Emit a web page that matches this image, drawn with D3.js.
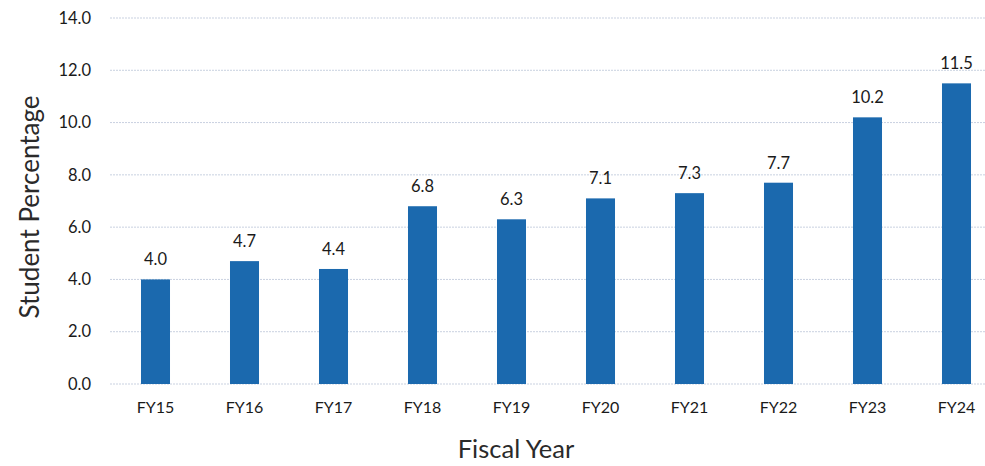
<!DOCTYPE html>
<html><head><meta charset="utf-8">
<script src="https://cdn.jsdelivr.net/npm/d3@7"></script>
<style>html,body{margin:0;padding:0;background:#fff;overflow:hidden}</style>
</head><body>
<svg id="c" width="985" height="466"></svg>
<script>
const categories = ["FY15","FY16","FY17","FY18","FY19","FY20","FY21","FY22","FY23","FY24"];
const values = [4.0,4.7,4.4,6.8,6.3,7.1,7.3,7.7,10.2,11.5];
const yTicks = [0,2,4,6,8,10,12,14];

const svg = d3.select("#c");
const font = "Lato, 'Open Sans', sans-serif";
const x = d3.scaleBand().domain(categories).range([111,1001]).paddingInner(0.674).paddingOuter(0.337);
const y = d3.scaleLinear().domain([0,14]).range([384,18]);

svg.append("g").selectAll("line").data(yTicks).join("line")
  .attr("x1",110).attr("x2",985)
  .attr("y1",d=>y(d)).attr("y2",d=>y(d))
  .attr("stroke","#c9d1e0").attr("stroke-width",1).attr("stroke-dasharray","2,1");

const yAxis = svg.append("g").attr("transform","translate(110,0)")
  .call(d3.axisLeft(y).tickValues(yTicks).tickFormat(d3.format(".1f")).tickSize(0).tickPadding(19));
yAxis.select(".domain").remove();
yAxis.selectAll("text").attr("font-family",font).attr("font-size",16.5).attr("fill","#1a1a1a");

svg.append("g").selectAll("rect").data(values).join("rect")
  .attr("x",(d,i)=>x(categories[i])).attr("width",x.bandwidth())
  .attr("y",d=>y(d)).attr("height",d=>y(0)-y(d))
  .attr("fill","#1b69ae");

svg.append("g").selectAll("text").data(values).join("text")
  .attr("x",(d,i)=>x(categories[i])+x.bandwidth()/2)
  .attr("y",d=>y(d)-14)
  .attr("text-anchor","middle").attr("font-family",font).attr("font-size",16.5).attr("fill","#1a1a1a")
  .text(d=>d3.format(".1f")(d));

const xAxis = svg.append("g").attr("transform","translate(0,384)")
  .call(d3.axisBottom(x).tickSize(0).tickPadding(18));
xAxis.select(".domain").remove();
xAxis.selectAll("text").attr("font-family",font).attr("font-size",16).attr("fill","#1a1a1a");

svg.append("text").attr("x",516).attr("y",458).attr("text-anchor","middle")
  .attr("font-family",font).attr("font-size",25.5).attr("fill","#2a2a2a").text("Fiscal Year");
svg.append("text").attr("transform","translate(39,207) rotate(-90)").attr("text-anchor","middle")
  .attr("font-family",font).attr("font-size",26).attr("fill","#2a2a2a").text("Student Percentage");
</script>
</body></html>
